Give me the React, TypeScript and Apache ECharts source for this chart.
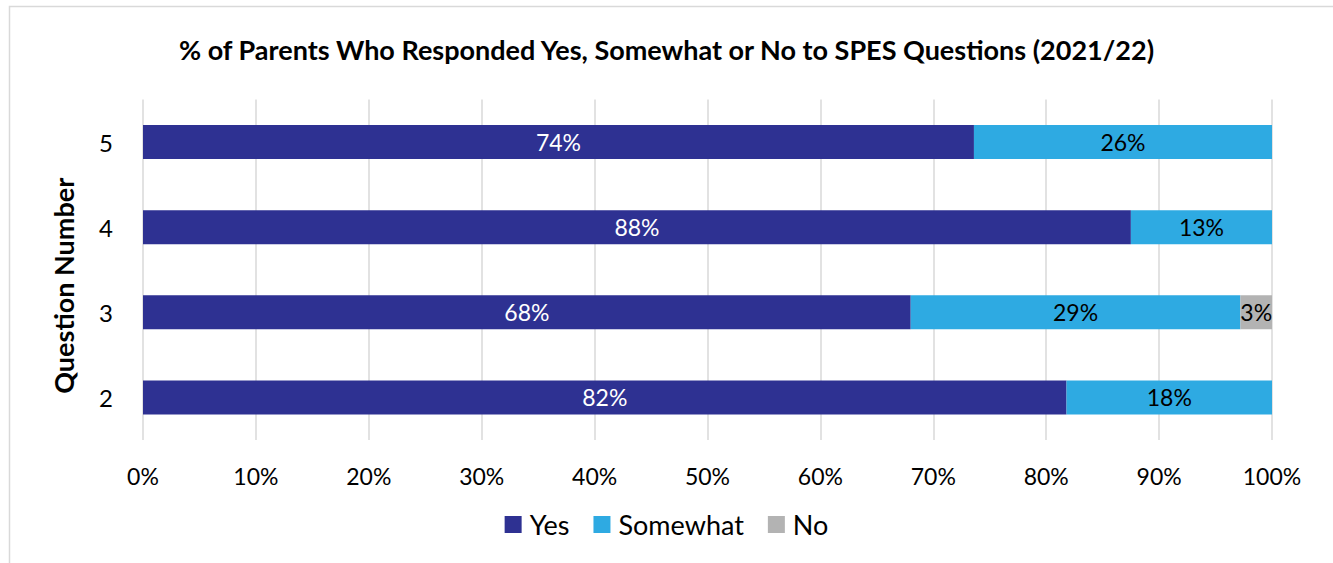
import React, { useEffect, useRef } from "react";
import * as echarts from "echarts";

const categories = ["2", "3", "4", "5"];
const yesValues = [81.8, 68.0, 87.5, 73.6];
const somewhatValues = [18.2, 29.2, 12.5, 26.4];
const noValues = [0, 2.8, 0, 0];
const xTicks = { min: 0, max: 100, interval: 10 };

const FONT = "Lato, 'Noto Sans', sans-serif";

export default function App() {
  const ref = useRef<HTMLDivElement>(null);
  useEffect(() => {
    if (!ref.current) return;
    const chart = echarts.init(ref.current, null, { renderer: "svg" });
    const fmt = (p: any) => (p.value > 0 ? Math.round(p.value) + "%" : "");
    const mkSeries = (name: string, data: number[], color: string, labelColor: string) => ({
      name,
      type: "bar",
      stack: "total",
      barWidth: "40%",
      data,
      itemStyle: { color },
      label: {
        show: true,
        position: "inside",
        formatter: fmt,
        color: labelColor,
        fontSize: 23,
        fontFamily: FONT,
      },
    });
    chart.setOption({
      animation: false,
      backgroundColor: "#fff",
      textStyle: { fontFamily: FONT },
      title: {
        text: "% of Parents Who Responded Yes, Somewhat or No to SPES Questions (2021/22)",
        left: "center",
        top: 31,
        textStyle: { fontSize: 27, fontWeight: "bold", color: "#000", fontFamily: FONT },
      },
      graphic: [
        {
          type: "rect",
          shape: { x: 9.5, y: 6.5, width: 1340, height: 600 },
          style: { fill: "none", stroke: "#d9d9d9", lineWidth: 1.5 },
          silent: true,
        },
      ],
      legend: {
        data: ["Yes", "Somewhat", "No"],
        top: 506,
        left: "center",
        itemWidth: 17,
        itemHeight: 17,
        itemGap: 24,
        icon: "rect",
        textStyle: { fontSize: 27, color: "#000", fontFamily: FONT, padding: [0, 0, 0, 3] },
      },
      grid: { left: 143, right: 61, top: 99.5, bottom: 123, containLabel: false },
      xAxis: {
        type: "value",
        min: xTicks.min,
        max: xTicks.max,
        interval: xTicks.interval,
        axisLabel: { formatter: "{value}%", fontSize: 23, color: "#000", margin: 24, fontFamily: FONT },
        axisLine: { show: false },
        axisTick: { show: false },
        splitLine: { show: true, lineStyle: { color: "#d9d9d9", width: 1.5 } },
      },
      yAxis: {
        type: "category",
        data: categories,
        name: "Question Number",
        nameLocation: "middle",
        nameGap: 66,
        nameRotate: 90,
        nameTextStyle: {
          fontSize: 27,
          fontWeight: "bold",
          color: "#000",
          fontFamily: FONT,
          padding: [0, 32, 0, 0],
        },
        axisLabel: { fontSize: 24, color: "#000", margin: 30, fontFamily: FONT },
        axisLine: { show: false },
        axisTick: { show: false },
        splitLine: { show: false },
      },
      series: [
        mkSeries("Yes", yesValues, "#2e3192", "#fff"),
        mkSeries("Somewhat", somewhatValues, "#2eaae2", "#000"),
        mkSeries("No", noValues, "#b3b3b3", "#000"),
      ],
    });
    return () => chart.dispose();
  }, []);
  return (
    <div
      ref={ref}
      style={{ position: "absolute", left: 0, top: 0, width: 1333, height: 563 }}
    />
  );
}
